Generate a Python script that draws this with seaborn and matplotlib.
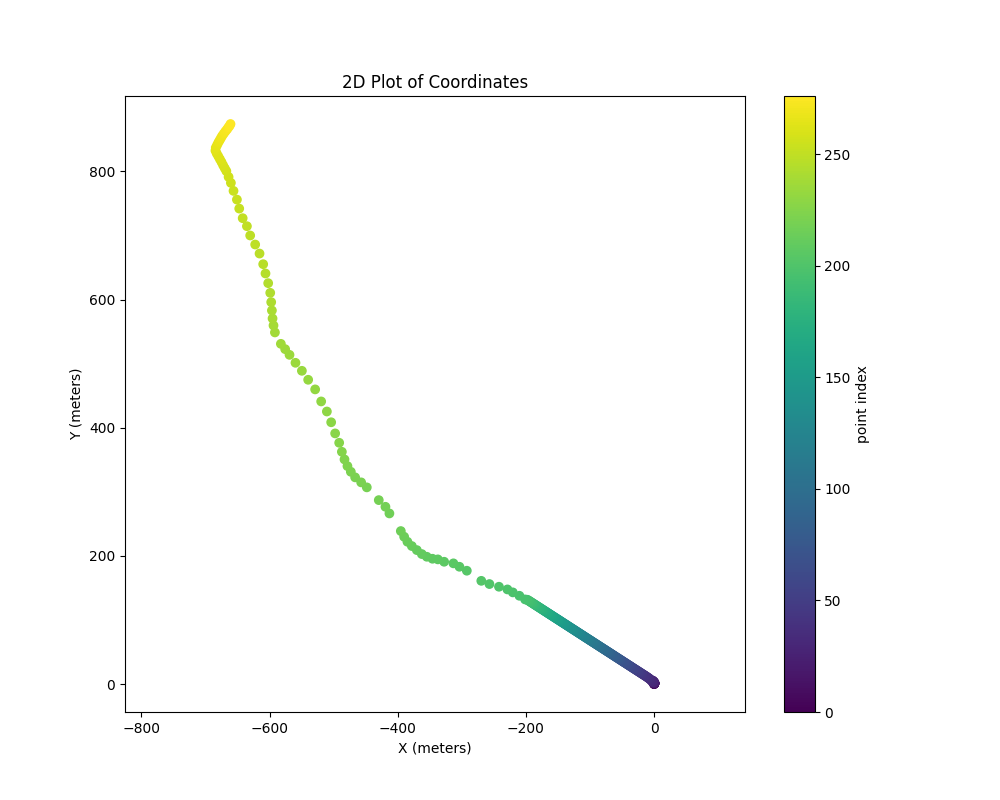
import numpy as np
import pandas as pd
import seaborn as sns
import matplotlib.pyplot as plt
from matplotlib.colors import Normalize
from matplotlib.cm import ScalarMappable

# start: vehicle barely moving near the origin (index 0-29)
x_start = [0.0, 0.2, 0.1, 0.3, 0.2, 0.4, 0.3, 0.5, 0.4, 0.6,
           0.5, 0.7, 0.6, 0.8, 0.5, 0.7, 0.4, 0.6, 0.3, 0.5,
           0.2, 0.4, 0.1, 0.0, -0.2, -0.4, -0.7, -1.0, -1.4, -1.9]
y_start = [0.0, 0.1, 0.3, 0.2, 0.4, 0.3, 0.5, 0.6, 0.8, 0.7,
           0.9, 1.0, 1.2, 1.1, 1.3, 1.4, 1.6, 1.5, 1.8, 1.9,
           2.1, 2.2, 2.4, 2.6, 2.8, 3.1, 3.5, 4.0, 4.6, 5.3]

# dense straight stretch (index 30-195)
x_line = [-2.0, -3.1, -4.3, -5.4, -6.6, -7.8, -8.9, -10.1, -11.2, -12.4,
          -13.6, -14.7, -15.9, -17.1, -18.2, -19.4, -20.6, -21.7, -22.9, -24.1,
          -25.2, -26.4, -27.6, -28.7, -29.9, -31.1, -32.3, -33.4, -34.6, -35.8,
          -37.0, -38.1, -39.3, -40.5, -41.7, -42.8, -44.0, -45.2, -46.4, -47.5,
          -48.7, -49.9, -51.1, -52.3, -53.4, -54.6, -55.8, -57.0, -58.2, -59.3,
          -60.5, -61.7, -62.9, -64.1, -65.2, -66.4, -67.6, -68.8, -70.0, -71.1,
          -72.3, -73.5, -74.7, -75.9, -77.0, -78.2, -79.4, -80.6, -81.8, -83.0,
          -84.1, -85.3, -86.5, -87.7, -88.9, -90.1, -91.2, -92.4, -93.6, -94.8,
          -96.0, -97.2, -98.4, -99.5, -100.7, -101.9, -103.1, -104.3, -105.5, -106.7,
          -107.8, -109.0, -110.2, -111.4, -112.6, -113.8, -115.0, -116.2, -117.3, -118.5,
          -119.7, -120.9, -122.1, -123.3, -124.5, -125.7, -126.8, -128.0, -129.2, -130.4,
          -131.6, -132.8, -134.0, -135.2, -136.4, -137.5, -138.7, -139.9, -141.1, -142.3,
          -143.5, -144.7, -145.9, -147.1, -148.3, -149.4, -150.6, -151.8, -153.0, -154.2,
          -155.4, -156.6, -157.8, -159.0, -160.2, -161.4, -162.6, -163.7, -164.9, -166.1,
          -167.3, -168.5, -169.7, -170.9, -172.1, -173.3, -174.5, -175.7, -176.9, -178.1,
          -179.3, -180.5, -181.7, -182.9, -184.1, -185.3, -186.5, -187.7, -188.9, -190.1,
          -191.4, -192.6, -193.9, -195.2, -196.5, -197.8]
y_line = [3.0, 4.4, 5.6, 6.7, 7.8, 8.7, 9.5, 10.3, 11.1, 11.9,
          12.7, 13.4, 14.2, 14.9, 15.6, 16.4, 17.2, 17.9, 18.7, 19.4,
          20.2, 20.9, 21.7, 22.4, 23.2, 23.9, 24.7, 25.4, 26.2, 27.0,
          27.8, 28.5, 29.2, 30.0, 30.8, 31.5, 32.3, 33.1, 33.8, 34.5,
          35.3, 36.1, 36.9, 37.6, 38.3, 39.1, 39.9, 40.7, 41.4, 42.1,
          42.9, 43.7, 44.5, 45.2, 46.0, 46.7, 47.5, 48.3, 49.1, 49.8,
          50.5, 51.3, 52.1, 52.9, 53.6, 54.3, 55.1, 55.9, 56.7, 57.4,
          58.1, 58.9, 59.7, 60.5, 61.2, 62.0, 62.7, 63.5, 64.3, 65.0,
          65.8, 66.6, 67.4, 68.1, 68.8, 69.6, 70.4, 71.2, 71.9, 72.7,
          73.4, 74.2, 75.0, 75.8, 76.5, 77.3, 78.1, 78.8, 79.6, 80.3,
          81.1, 81.9, 82.7, 83.4, 84.2, 85.0, 85.7, 86.5, 87.2, 88.0,
          88.8, 89.6, 90.3, 91.1, 91.9, 92.6, 93.4, 94.1, 94.9, 95.7,
          96.5, 97.2, 98.0, 98.8, 99.6, 100.3, 101.0, 101.8, 102.6, 103.4,
          104.1, 104.9, 105.7, 106.5, 107.2, 108.0, 108.8, 109.5, 110.3, 111.0,
          111.8, 112.6, 113.4, 114.1, 114.9, 115.7, 116.5, 117.2, 118.0, 118.8,
          119.6, 120.3, 121.1, 121.9, 122.6, 123.4, 124.2, 125.0, 125.7, 126.5,
          127.4, 128.1, 129.0, 129.8, 130.6, 131.5]

# spread-out points (index 196-256)
x_spread = [-201.2, -210.1, -220.4, -228.8, -242.0, -256.9, -269.6, -292.2, -303.7, -313.1,
            -327.6, -337.4, -345.8, -354.6, -362.4, -370.2, -378.0, -384.9, -390.0, -395.2,
            -413.0, -419.2, -429.6, -448.3, -457.1, -466.5, -473.2, -478.5, -483.1, -487.2,
            -491.4, -497.7, -503.9, -510.6, -519.5, -528.9, -539.8, -549.6, -559.6, -568.9,
            -575.7, -582.4, -591.7, -593.9, -595.4, -596.4, -597.5, -599.0, -602.2, -606.4,
            -610.0, -615.7, -622.5, -630.3, -635.4, -642.0, -647.4, -651.0, -656.3, -660.4,
            -664.0]
y_spread = [132.0, 137.7, 143.0, 147.6, 151.8, 156.0, 161.0, 176.8, 183.0, 188.3,
            190.8, 194.5, 195.5, 198.6, 202.8, 209.0, 215.3, 222.0, 229.8, 238.7,
            266.2, 276.6, 287.0, 306.9, 314.7, 322.5, 331.2, 340.1, 350.5, 362.4,
            376.5, 391.1, 408.5, 425.3, 441.0, 459.8, 474.8, 488.8, 501.3, 513.7,
            522.6, 530.9, 548.7, 559.6, 570.5, 583.0, 596.0, 610.5, 625.6, 640.7,
            655.2, 671.8, 685.9, 700.0, 714.5, 727.0, 742.0, 756.0, 769.6, 782.1,
            791.4]

# end: tight hook at the top (index 257-276)
x_end = [-667.5, -670.0, -672.5, -675.0, -677.5, -680.0, -682.5, -684.5, -684.0, -682.0,
         -680.0, -678.0, -676.0, -674.0, -671.5, -669.0, -666.5, -664.5, -662.5, -661.0]
y_end = [800.5, 805.0, 809.5, 814.5, 819.0, 823.5, 828.0, 832.5, 837.0, 841.0,
         845.0, 848.5, 852.0, 855.5, 859.0, 862.5, 865.5, 868.5, 871.0, 874.0]

x = x_start + x_line + x_spread + x_end
y = y_start + y_line + y_spread + y_end
df = pd.DataFrame({"x": x, "y": y})
df["idx"] = np.arange(len(df))

fig, ax = plt.subplots(figsize=(10, 8))
norm = Normalize(vmin=df["idx"].min(), vmax=df["idx"].max())
sns.scatterplot(data=df, x="x", y="y", hue="idx", palette="viridis", hue_norm=norm,
                s=36, edgecolor="face", linewidth=1.0, legend=False, ax=ax)
ax.set_title("2D Plot of Coordinates")
ax.set_xlabel("X (meters)")
ax.set_ylabel("Y (meters)")
ax.axis("equal")

sm = ScalarMappable(norm=norm, cmap="viridis")
cbar = fig.colorbar(sm, ax=ax)
cbar.set_label("point index")

plt.savefig("out.png", dpi=100)
